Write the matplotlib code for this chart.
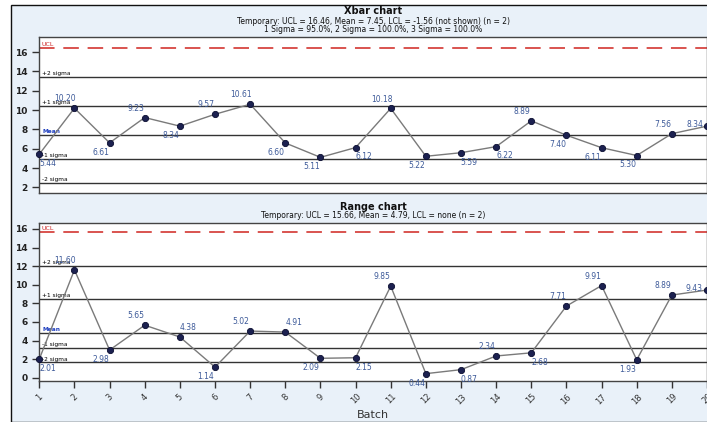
import matplotlib
matplotlib.use("Agg")
import matplotlib.pyplot as plt
from matplotlib.patches import Rectangle

batches = list(range(1, 21))
xbar = [5.44, 10.20, 6.61, 9.23, 8.34, 9.57, 10.61, 6.60, 5.11, 6.12,
        10.18, 5.22, 5.59, 6.22, 8.89, 7.40, 6.11, 5.30, 7.56, 8.34]
rng = [2.01, 11.60, 2.98, 5.65, 4.38, 1.14, 5.02, 4.91, 2.09, 2.15,
       9.85, 0.44, 0.87, 2.34, 2.68, 7.71, 9.91, 1.93, 8.89, 9.43]
# label placement: a/b = above/below, l/r = left/right of the point
xbar_pos = ['br', 'al', 'bl', 'al', 'bl', 'al', 'al', 'bl', 'bl', 'br',
            'al', 'bl', 'br', 'br', 'al', 'bl', 'bl', 'bl', 'al', 'm']
rng_pos = ['br', 'al', 'bl', 'al', 'ar', 'bl', 'al', 'ar', 'bl', 'br',
           'al', 'bl', 'br', 'al', 'br', 'al', 'al', 'bl', 'al', 'm']

xbar_lines = {'UCL': 16.46, '+2 sigma': 13.45, '+1 sigma': 10.45, 'Mean': 7.45,
              '-1 sigma': 4.96, '-2 sigma': 2.48}
rng_lines = {'UCL': 15.66, '+2 sigma': 12.02, '+1 sigma': 8.44, 'Mean': 4.79,
             '-1 sigma': 3.18, '-2 sigma': 1.64}

xbar_title = "Xbar chart"
xbar_sub1 = "Temporary: UCL = 16.46, Mean = 7.45, LCL = -1.56 (not shown) (n = 2)"
xbar_sub2 = "1 Sigma = 95.0%, 2 Sigma = 100.0%, 3 Sigma = 100.0%"
rng_title = "Range chart"
rng_sub = "Temporary: UCL = 15.66, Mean = 4.79, LCL = none (n = 2)"

W, H = 707, 422
fig = plt.figure(figsize=(W / 100, H / 100), dpi=100)
fig.patch.set_facecolor('white')
panel = Rectangle((11 / W, 0), 1.0, 1 - 5 / H, transform=fig.transFigure,
                  facecolor='#e9f1f9', edgecolor='#111111', lw=1.0, zorder=-5)
fig.patches.append(panel)

RED = '#d9534f'
MARK = '#1c2150'
LAB = '#3d5a99'


def draw(ax, vals, lines, pos, ylim, yticks):
    ax.set_facecolor('white')
    ax.set_xlim(1, 19.91)
    ax.set_ylim(*ylim)
    for name, v in lines.items():
        if name == 'UCL':
            ax.axhline(v, color=RED, lw=1.4, ls=(0, (8, 4.5)), zorder=2)
            ax.text(1.05, v + 0.1, 'UCL', color='#cc2222', fontsize=4.5,
                    va='bottom', ha='left', zorder=3)
        else:
            ax.axhline(v, color='#333333', lw=1.0, zorder=2)
            col = '#1f3fbf' if name == 'Mean' else 'black'
            ax.text(1.08, v + 0.1, name, color=col, fontsize=4.2,
                    va='bottom', ha='left', zorder=3,
                    fontweight='bold' if name == 'Mean' else 'normal')
    ax.plot(batches, vals, color='#7a7a7a', lw=1.0, zorder=4, clip_on=False)
    ax.plot(batches, vals, 'o', color=MARK, ms=4.5, mec='#0a0d30', mew=0.6,
            zorder=5, clip_on=False)
    for x, v, p in zip(batches, vals, pos):
        if p == 'm':
            off, va = (-9, 1), 'center'
        else:
            dx = -6.5 if p[1] == 'l' else 6
            if p[0] == 'a':
                off, va = (dx, 3.5), 'bottom'
            else:
                off, va = (dx, -3.5), 'top'
        ax.annotate(f"{v:.2f}", (x, v), xytext=off, textcoords='offset points',
                    ha='center', va=va, fontsize=5.5, color=LAB,
                    annotation_clip=False, zorder=6)
    ax.set_yticks(yticks)
    ax.set_xticks(batches)
    ax.tick_params(axis='y', direction='out', length=5, width=1, color='#333333',
                   labelsize=6.5, labelcolor='#222222')
    for t in ax.get_yticklabels():
        t.set_fontweight('bold')
    for s in ax.spines.values():
        s.set_color('#444444')
        s.set_linewidth(1.0)


cx = (39.3 + W) / 2 / W

ax1 = fig.add_axes([39.3 / W, 1 - 192.7 / H, (W - 39.3) / W, 156 / H])
draw(ax1, xbar, xbar_lines, xbar_pos, (1.45, 17.6), [2, 4, 6, 8, 10, 12, 14, 16])
ax1.tick_params(axis='x', bottom=False, labelbottom=False)
fig.text(cx, 1 - 11.5 / H, xbar_title, ha='center', va='center',
         fontsize=7, fontweight='bold', color='#111111')
fig.text(cx, 1 - 21 / H, xbar_sub1, ha='center', va='center',
         fontsize=5.5, color='#111111')
fig.text(cx, 1 - 30 / H, xbar_sub2, ha='center', va='center',
         fontsize=5.5, color='#111111')

ax2 = fig.add_axes([39.3 / W, 1 - 381 / H, (W - 39.3) / W, 158.3 / H])
draw(ax2, rng, rng_lines, rng_pos, (-0.35, 16.67), [0, 2, 4, 6, 8, 10, 12, 14, 16])
ax2.tick_params(axis='x', direction='out', length=5, width=1, color='#333333',
                labelsize=6, labelcolor='#333333', pad=3)
ax2.set_xticklabels([str(b) for b in batches], rotation=45, ha='center')
fig.text(cx, 1 - 207 / H, rng_title, ha='center', va='center',
         fontsize=7, fontweight='bold', color='#111111')
fig.text(cx, 1 - 216 / H, rng_sub, ha='center', va='center',
         fontsize=5.5, color='#111111')
ax2.set_xlabel('Batch', fontsize=8, color='#333333', labelpad=3)

fig.savefig('out.png', dpi=100, facecolor=fig.get_facecolor())
